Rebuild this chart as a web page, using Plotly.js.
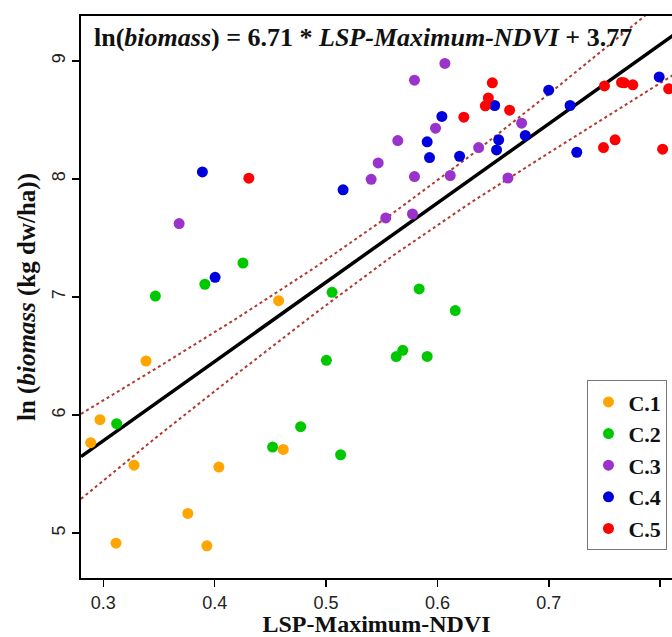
<!DOCTYPE html>
<html>
<head>
<meta charset="utf-8">
<script src="https://cdn.plot.ly/plotly-3.0.1.min.js"></script>
<style>html,body{margin:0;padding:0;background:#fff;}#chart{width:672px;height:637px;}</style>
</head>
<body>
<div id="chart"></div>
<script>
// ---- data ----
const c1x = [0.2887, 0.297, 0.3384, 0.3276, 0.3114, 0.3759, 0.393, 0.4038, 0.4616, 0.4574];
const c1y = [5.766, 5.961, 6.458, 5.576, 4.915, 5.167, 4.893, 5.56, 5.709, 6.969];

const c2x = [0.312, 0.3468, 0.3912, 0.4254, 0.452, 0.4772, 0.5003, 0.5054, 0.5131, 0.563, 0.5689, 0.5836, 0.5908, 0.616];
const c2y = [5.927, 7.008, 7.108, 7.288, 5.729, 5.902, 6.464, 7.04, 5.664, 6.495, 6.548, 7.068, 6.497, 6.885];

const c3x = [0.3681, 0.6067, 0.5794, 0.5644, 0.5983, 0.5468, 0.5405, 0.5794, 0.6115, 0.637, 0.6756, 0.6633, 0.5536, 0.5776];
const c3y = [7.622, 8.978, 8.836, 8.325, 8.43, 8.136, 7.997, 8.02, 8.029, 8.266, 8.472, 8.008, 7.67, 7.703];

const c4x = [0.389, 0.4004, 0.5153, 0.604, 0.5908, 0.5929, 0.6199, 0.6514, 0.655, 0.6531, 0.6789, 0.6999, 0.7191, 0.7251, 0.7991];
const c4y = [8.059, 7.167, 7.908, 8.529, 8.314, 8.181, 8.192, 8.622, 8.331, 8.246, 8.368, 8.752, 8.622, 8.226, 8.864];

const c5x = [0.4307, 0.6493, 0.6457, 0.643, 0.6237, 0.6648, 0.75, 0.7653, 0.7676, 0.7754, 0.8076, 0.7491, 0.7595, 0.8022];
const c5y = [8.006, 8.814, 8.686, 8.619, 8.523, 8.582, 8.788, 8.817, 8.814, 8.797, 8.763, 8.266, 8.331, 8.252];

// regression (from the equation printed on the chart)
const slope = 6.71;
const intercept = 3.77;
const fitX = [0.28, 0.82];

// dotted band
const bandX = [0.28, 0.35, 0.42, 0.49, 0.56, 0.63, 0.70, 0.77, 0.82];
const bandUpper = [6.01, 6.41, 6.82, 7.25, 7.71, 8.20, 8.72, 9.25, 9.64];
const bandLower = [5.29, 5.83, 6.35, 6.86, 7.35, 7.80, 8.22, 8.63, 8.93];

const classNames = ["C.1", "C.2", "C.3", "C.4", "C.5"];
const classColors = ["#FFA500", "#00C800", "#9933CC", "#0000DD", "#FF0000"];
const xs = [c1x, c2x, c3x, c4x, c5x];
const ys = [c1y, c2y, c3y, c4y, c5y];

const bandColor = "#B03A2E";
const traces = [
  {x: bandX, y: bandUpper, mode: "lines", line: {color: bandColor, width: 2, dash: "dot"}, showlegend: false, hoverinfo: "skip"},
  {x: bandX, y: bandLower, mode: "lines", line: {color: bandColor, width: 2, dash: "dot"}, showlegend: false, hoverinfo: "skip"},
  {x: fitX, y: fitX.map(v => slope * v + intercept), mode: "lines", line: {color: "#000", width: 3.5}, showlegend: false, hoverinfo: "skip"}
];
for (let i = 0; i < classNames.length; i++) {
  traces.push({
    x: xs[i], y: ys[i], mode: "markers", name: classNames[i],
    marker: {color: classColors[i], size: 11}, cliponaxis: false
  });
}

const tickFont = {family: "Liberation Sans, Arial, sans-serif", size: 18, color: "#222"};
const serifBold = {family: "Liberation Serif, Times New Roman, serif", size: 24, color: "#111", weight: "bold"};
const serifBoldY = {family: "Liberation Serif, Times New Roman, serif", size: 25, color: "#111", weight: "bold"};

const layout = {
  width: 672, height: 637,
  margin: {l: 81, r: 0, t: 16, b: 59},
  paper_bgcolor: "#fff", plot_bgcolor: "#fff",
  showlegend: true,
  xaxis: {
    range: [0.28, 0.8106], showgrid: false, zeroline: false,
    showline: true, linecolor: "#000", linewidth: 2, mirror: true,
    ticks: "outside", ticklen: 7, tickwidth: 1.5, tickcolor: "#000",
    tickvals: [0.3, 0.4, 0.5, 0.6, 0.7, 0.8], ticktext: ["0.3", "0.4", "0.5", "0.6", "0.7", "0.8"],
    tickfont: tickFont,
    title: {text: "LSP-Maximum-NDVI", font: serifBold, standoff: 4}
  },
  yaxis: {
    range: [4.62, 9.38], showgrid: false, zeroline: false,
    showline: true, linecolor: "#000", linewidth: 2,
    ticks: "outside", ticklen: 7, tickwidth: 1.5, tickcolor: "#000",
    tickvals: [5, 6, 7, 8, 9], ticktext: ["5", "6", "7", "8", "9"],
    tickangle: -90, tickfont: tickFont,
    title: {text: "ln (<i>biomass</i> (kg dw/ha))", font: serifBoldY, standoff: 6}
  },
  legend: {
    x: 0.857, y: 0.352, xanchor: "left", yanchor: "top",
    bgcolor: "#fff", bordercolor: "#777", borderwidth: 1,
    font: {family: "Liberation Serif, Times New Roman, serif", size: 22, color: "#111", weight: "bold"},
    itemwidth: 30, tracegroupgap: 0
  },
  annotations: [{
    xref: "paper", yref: "paper", x: 0.0186, y: 0.961, xanchor: "left", yanchor: "middle",
    showarrow: false,
    text: "<b>ln(<i>biomass</i>) = 6.71 * <i>LSP-Maximum-NDVI</i> + 3.77</b>",
    font: {family: "Liberation Serif, Times New Roman, serif", size: 26, color: "#111"}
  }]
};

Plotly.newPlot("chart", traces, layout, {displayModeBar: false, staticPlot: true});
</script>
</body>
</html>
